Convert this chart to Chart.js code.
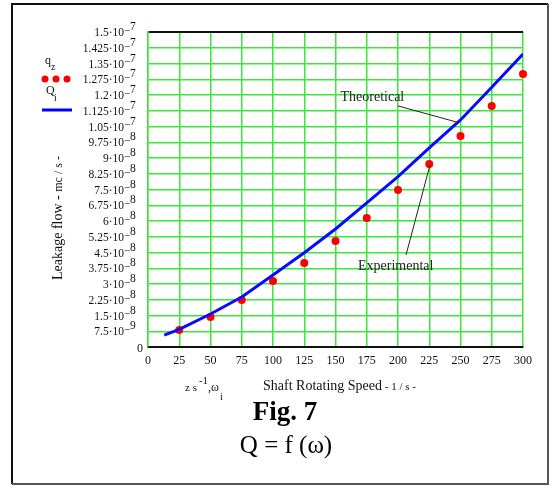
<!DOCTYPE html>
<html>
<head>
<meta charset="utf-8">
<script src="https://cdn.jsdelivr.net/npm/chart.js@4"></script>
<style>
  html, body { margin: 0; padding: 0; background: #fff; }
  canvas { display: block; }
</style>
</head>
<body>
<canvas id="chart" width="555" height="486"></canvas>
<script>
// shaft speed of measured points (1/s)
const speedMeasured = [25, 50, 75, 100, 125, 150, 175, 200, 225, 250, 275, 300];
// experimental leakage q_z (m3/s)
const leakMeasured = [8.1e-9, 1.43e-8, 2.24e-8, 3.14e-8, 4.0e-8, 5.05e-8, 6.14e-8, 7.48e-8, 8.71e-8, 1.005e-7, 1.148e-7, 1.30e-7];
// theoretical curve Q_i
const speedTheory = [13, 25, 50, 75, 100, 125, 150, 175, 200, 225, 250, 275, 300];
const leakTheory = [5.7e-9, 8.4e-9, 1.57e-8, 2.38e-8, 3.43e-8, 4.49e-8, 5.62e-8, 6.86e-8, 8.11e-8, 9.48e-8, 1.081e-7, 1.237e-7, 1.395e-7];

// axis ticks
const xTicks = [0, 25, 50, 75, 100, 125, 150, 175, 200, 225, 250, 275, 300];
const yMantissa = ["0", "7.5", "1.5", "2.25", "3", "3.75", "4.5", "5.25", "6", "6.75", "7.5", "8.25", "9", "9.75",
                   "1.05", "1.125", "1.2", "1.275", "1.35", "1.425", "1.5"];
const yExponent = [0, -9, -8, -8, -8, -8, -8, -8, -8, -8, -8, -8, -8, -8, -7, -7, -7, -7, -7, -7, -7];
const yTicks = yMantissa.map((m, i) => i === 0 ? 0 : parseFloat(m) * Math.pow(10, yExponent[i]));

const GRID = "#3ae83a";
const SERIF = "'Liberation Serif', 'Times New Roman', serif";

function txt(ctx, s, x, y, font, align) {
    ctx.font = font;
    ctx.textAlign = align || "left";
    ctx.textBaseline = "middle";
    ctx.fillText(s, x, y);
    return ctx.measureText(s).width;
}

const decor = {
    id: "decor",
    beforeDraw(chart) {
        const ctx = chart.ctx;
        ctx.save();
        ctx.fillStyle = "#fff";
        ctx.fillRect(0, 0, chart.width, chart.height);
        ctx.restore();
    },
    afterDatasetsDraw(chart) {
        const ctx = chart.ctx;
        const xs = chart.scales.x, ys = chart.scales.y;
        ctx.save();
        ctx.fillStyle = "#222";
        ctx.strokeStyle = "#222";
        ctx.lineWidth = 1;
        // Theoretical pointer
        txt(ctx, "Theoretical", xs.getPixelForValue(154), ys.getPixelForValue(1.19e-7), "14px " + SERIF);
        ctx.beginPath();
        ctx.moveTo(xs.getPixelForValue(200), ys.getPixelForValue(1.148e-7));
        ctx.lineTo(xs.getPixelForValue(247), ys.getPixelForValue(1.071e-7));
        ctx.stroke();
        // Experimental pointer
        txt(ctx, "Experimental", xs.getPixelForValue(168), ys.getPixelForValue(3.86e-8), "14px " + SERIF);
        ctx.beginPath();
        ctx.moveTo(xs.getPixelForValue(206.4), ys.getPixelForValue(4.38e-8));
        ctx.lineTo(xs.getPixelForValue(225.6), ys.getPixelForValue(8.67e-8));
        ctx.stroke();
        ctx.restore();
    },
    afterDraw(chart) {
        const ctx = chart.ctx;
        const xs = chart.scales.x, ys = chart.scales.y;
        const area = chart.chartArea;
        ctx.save();

        // outer frame
        ctx.strokeStyle = "#111";
        ctx.lineWidth = 2;
        ctx.beginPath();
        ctx.moveTo(12, 484); ctx.lineTo(12, 4); ctx.lineTo(548, 4);
        ctx.stroke();
        ctx.strokeStyle = "#555";
        ctx.beginPath();
        ctx.moveTo(548, 4); ctx.lineTo(548, 484); ctx.lineTo(12, 484);
        ctx.stroke();

        ctx.fillStyle = "#111";
        // y tick labels with exponents
        yTicks.forEach((v, i) => {
            const p = ys.getPixelForValue(v);
            if (i === 0) {
                txt(ctx, "0", area.left - 5, p + 2, "12px " + SERIF, "right");
                return;
            }
            txt(ctx, yMantissa[i] + "\u00B710", 124, p + 1, "11.5px " + SERIF, "right");
            txt(ctx, "\u2212", 124, p - 1, "11px " + SERIF);
            txt(ctx, String(-yExponent[i]), 130, p - 5, "11.5px " + SERIF);
        });

        // x tick labels
        xTicks.forEach(v => {
            txt(ctx, String(v), xs.getPixelForValue(v), area.bottom + 14, "12px " + SERIF, "center");
        });

        // x title
        let x = 185;
        x += txt(ctx, "z s", x, 388, "11px " + SERIF);
        x += txt(ctx, "-1", x + 2, 381, "11px " + SERIF) + 2;
        x += txt(ctx, ",\u03C9", x, 388, "12px " + SERIF);
        txt(ctx, "i", x + 1, 397, "10px " + SERIF);
        x = 263;
        x += txt(ctx, "Shaft Rotating Speed", x, 386, "14px " + SERIF);
        txt(ctx, " - 1 / s -", x, 387, "11px " + SERIF);

        // y title
        ctx.save();
        ctx.translate(58, 218);
        ctx.rotate(-Math.PI / 2);
        ctx.font = "14px " + SERIF;
        const w1 = ctx.measureText("Leakage flow - ").width;
        ctx.font = "12px " + SERIF;
        const w2 = ctx.measureText("mc / s -").width;
        let tx = -(w1 + w2) / 2;
        tx += txt(ctx, "Leakage flow - ", tx, 0, "14px " + SERIF);
        txt(ctx, "mc / s -", tx, 1, "12px " + SERIF);
        ctx.restore();

        // legend
        txt(ctx, "q", 45, 61, "12px " + SERIF);
        txt(ctx, "z", 51, 67, "10px " + SERIF);
        ctx.fillStyle = "#ff0000";
        [45, 56, 67].forEach(cx => {
            ctx.beginPath();
            ctx.arc(cx, 79, 3.5, 0, Math.PI * 2);
            ctx.fill();
        });
        ctx.fillStyle = "#111";
        txt(ctx, "Q", 46, 91, "12px " + SERIF);
        txt(ctx, "i", 54, 98, "10px " + SERIF);
        ctx.strokeStyle = "#0000ff";
        ctx.lineWidth = 3;
        ctx.beginPath();
        ctx.moveTo(42, 110); ctx.lineTo(72, 110);
        ctx.stroke();

        // caption
        ctx.fillStyle = "#000";
        txt(ctx, "Fig. 7", 285, 413, "bold 27px " + SERIF, "center");
        txt(ctx, "Q = f (\u03C9)", 286, 446, "25px " + SERIF, "center");

        ctx.restore();
    }
};

new Chart(document.getElementById("chart").getContext("2d"), {
    type: "scatter",
    data: {
        datasets: [
            {
                label: "Q_i",
                data: speedTheory.map((s, i) => ({ x: s, y: leakTheory[i] })),
                showLine: true,
                borderColor: "#0a0aff",
                borderWidth: 3,
                pointRadius: 0,
                tension: 0,
                order: 0
            },
            {
                label: "q_z",
                data: speedMeasured.map((s, i) => ({ x: s, y: leakMeasured[i] })),
                backgroundColor: "#ff0000",
                borderWidth: 0,
                pointRadius: 4,
                clip: false,
                order: 1
            }
        ]
    },
    options: {
        responsive: false,
        animation: false,
        layout: { padding: { left: 148, right: 32, top: 32, bottom: 139 } },
        plugins: { legend: { display: false }, tooltip: { enabled: false } },
        scales: {
            x: {
                type: "linear",
                min: 0,
                max: 300,
                afterBuildTicks: axis => { axis.ticks = xTicks.map(v => ({ value: v })); },
                ticks: { display: false },
                grid: { color: GRID, lineWidth: 1.5, drawTicks: false },
                border: { color: "#111", width: 2 }
            },
            y: {
                type: "linear",
                min: 0,
                max: 1.5e-7,
                afterBuildTicks: axis => { axis.ticks = yTicks.map(v => ({ value: v })); },
                ticks: { display: false },
                grid: {
                    color: ctx => ctx.tick && ctx.tick.value >= 1.49e-7 ? "#111" : GRID,
                    lineWidth: ctx => ctx.tick && ctx.tick.value >= 1.49e-7 ? 2 : 1.5,
                    drawTicks: false
                },
                border: { color: GRID, width: 1.5 }
            }
        }
    },
    plugins: [decor]
});
</script>
</body>
</html>
